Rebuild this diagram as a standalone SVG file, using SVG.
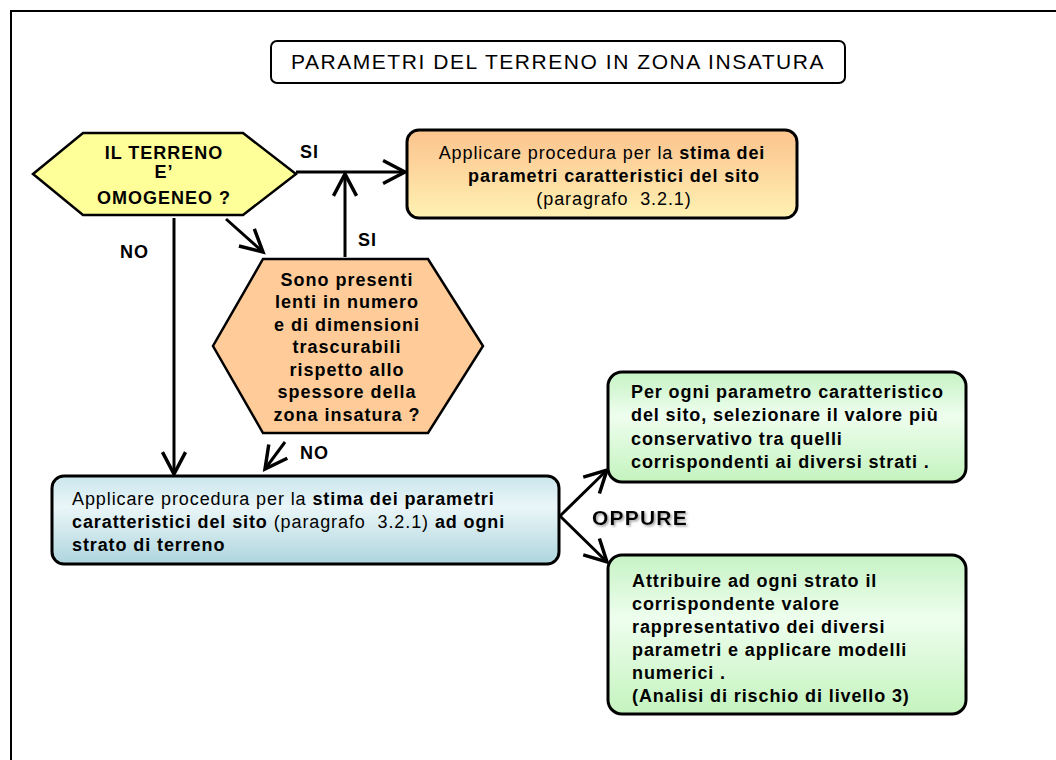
<svg xmlns="http://www.w3.org/2000/svg" width="1056" height="760" viewBox="0 0 1056 760">
<style>
text{font-family:"Liberation Sans",Arial,sans-serif;fill:#000;white-space:pre;}
.b{font-weight:bold;}
.t18{font-size:18px;letter-spacing:0.9px;}
.lbl{font-size:18px;font-weight:bold;letter-spacing:1px;}
.box{stroke:#000;stroke-width:3;}
.conn{stroke:#000;stroke-width:3;fill:none;marker-end:url(#arr);}
</style>
<defs>
<marker id="arr" markerUnits="userSpaceOnUse" markerWidth="30" markerHeight="30" viewBox="-22 -12 26 24" refX="0" refY="0" orient="auto" overflow="visible">
<polyline points="-19,-10 0,0 -19,10" fill="none" stroke="#000" stroke-width="3" stroke-linejoin="miter"/>
</marker>
<linearGradient id="gOr" x1="0" y1="0" x2="0" y2="1">
<stop offset="0" stop-color="#FCC38E"/>
<stop offset="0.5" stop-color="#FDD9A0"/>
<stop offset="1" stop-color="#FFF2B2"/>
</linearGradient>
<linearGradient id="gBl" x1="0" y1="0" x2="0" y2="1">
<stop offset="0" stop-color="#C9E6EC"/>
<stop offset="0.35" stop-color="#EAF6F8"/>
<stop offset="1" stop-color="#AED5DD"/>
</linearGradient>
<linearGradient id="gGr" x1="0" y1="0" x2="0" y2="1">
<stop offset="0" stop-color="#C6F3C4"/>
<stop offset="0.4" stop-color="#EEFEEE"/>
<stop offset="1" stop-color="#C4F3BE"/>
</linearGradient>
<filter id="sh" x="-10%" y="-20%" width="130%" height="150%">
<feDropShadow dx="1.5" dy="1.5" stdDeviation="0.8" flood-color="#888" flood-opacity="0.8"/>
</filter>
</defs>

<g id="frame">
<polyline points="11,760 11,11 1056,11" fill="none" stroke="#000" stroke-width="2"/>
</g>

<g id="title">
<rect x="271" y="41" width="574" height="42" rx="6" fill="#fff" stroke="#000" stroke-width="2"/>
<text x="558" y="69" text-anchor="middle" style="font-size:21px;letter-spacing:1.55px">PARAMETRI DEL TERRENO IN ZONA INSATURA</text>
</g>

<g id="connectors">
<line class="conn" x1="296" y1="172" x2="405" y2="172"/>
<line class="conn" x1="345" y1="257" x2="345" y2="174"/>
<line class="conn" x1="226" y1="219" x2="263" y2="252"/>
<line class="conn" x1="174" y1="218" x2="174" y2="474"/>
<line class="conn" x1="285" y1="442" x2="265" y2="469"/>
<line class="conn" x1="560" y1="516" x2="607" y2="470"/>
<line class="conn" x1="560" y1="516" x2="607" y2="562"/>
</g>

<g id="labels">
<text class="lbl" x="300" y="158">SI</text>
<text class="lbl" x="358" y="246">SI</text>
<text class="lbl" x="120" y="258">NO</text>
<text class="lbl" x="300" y="459">NO</text>
<text x="592" y="525" class="b" style="font-size:21px;letter-spacing:1.2px" filter="url(#sh)">OPPURE</text>
</g>

<g id="node-omogeneo">
<polygon points="33,174 83,133 243,133 296,174 243,215 83,215" fill="#FFFF99" stroke="#000" stroke-width="2.5"/>
<text class="lbl" text-anchor="middle" x="164" y="159">IL TERRENO</text>
<text class="lbl" text-anchor="middle" x="164" y="178">E’</text>
<text class="lbl" text-anchor="middle" x="164" y="204">OMOGENEO ?</text>
</g>

<g id="node-stima">
<rect class="box" x="407" y="130" width="390" height="88" rx="12" fill="url(#gOr)"/>
<text class="t18" x="602" y="159" text-anchor="middle">Applicare procedura per la <tspan class="b">stima dei</tspan></text>
<text class="t18 b" x="614" y="182" text-anchor="middle">parametri caratteristici del sito</text>
<text class="t18" x="614" y="205" text-anchor="middle">(paragrafo  3.2.1)</text>
</g>

<g id="node-lenti">
<polygon points="263,259 428,259 483,346 428,433 263,433 213,346" fill="#FFCC99" stroke="#000" stroke-width="2.5"/>
<text class="lbl" x="347" y="286" text-anchor="middle">Sono presenti</text>
<text class="lbl" x="347" y="308" text-anchor="middle">lenti in numero</text>
<text class="lbl" x="347" y="331" text-anchor="middle">e di dimensioni</text>
<text class="lbl" x="347" y="353" text-anchor="middle">trascurabili</text>
<text class="lbl" x="347" y="376" text-anchor="middle">rispetto allo</text>
<text class="lbl" x="347" y="398" text-anchor="middle">spessore della</text>
<text class="lbl" x="347" y="421" text-anchor="middle">zona insatura ?</text>
</g>

<g id="node-strati">
<rect class="box" x="52" y="476" width="507" height="88" rx="12" fill="url(#gBl)"/>
<text class="t18" x="72" y="505">Applicare procedura per la <tspan class="b">stima dei parametri</tspan></text>
<text class="t18" x="72" y="528"><tspan class="b">caratteristici del sito</tspan> (paragrafo  3.2.1) <tspan class="b">ad ogni</tspan></text>
<text class="t18 b" x="72" y="551">strato di terreno</text>
</g>

<g id="node-conservativo">
<rect class="box" x="608" y="372" width="358" height="110" rx="14" fill="url(#gGr)"/>
<text class="t18 b" x="631" y="398">Per ogni parametro caratteristico</text>
<text class="t18 b" x="631" y="421">del sito, selezionare il valore più</text>
<text class="t18 b" x="631" y="445">conservativo tra quelli</text>
<text class="t18 b" x="631" y="468">corrispondenti ai diversi strati .</text>
</g>

<g id="node-modelli">
<rect class="box" x="608" y="555" width="358" height="159" rx="14" fill="url(#gGr)"/>
<text class="t18 b" x="632" y="587">Attribuire ad ogni strato il</text>
<text class="t18 b" x="632" y="610">corrispondente valore</text>
<text class="t18 b" x="632" y="633">rappresentativo dei diversi</text>
<text class="t18 b" x="632" y="656">parametri e applicare modelli</text>
<text class="t18 b" x="632" y="679">numerici .</text>
<text class="t18 b" x="632" y="702">(Analisi di rischio di livello 3)</text>
</g>
</svg>
